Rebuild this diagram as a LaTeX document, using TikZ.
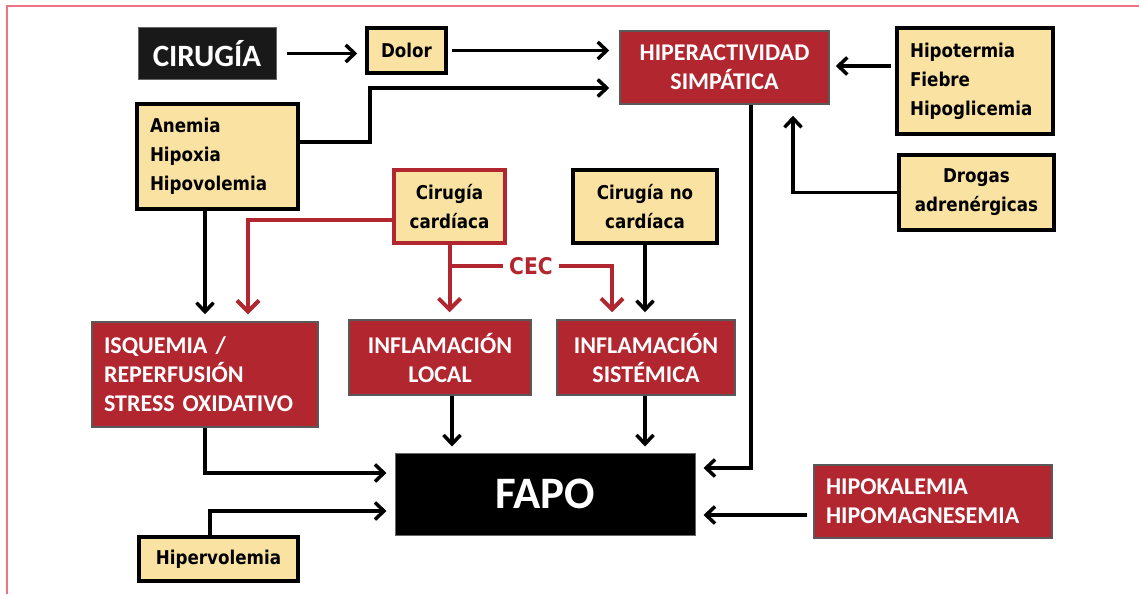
\documentclass[tikz,border=0pt]{standalone}
\usepackage{fontspec}
\usetikzlibrary{arrows.meta}
\newfontfamily\yfont{DejaVu Sans}[FakeStretch=0.88]
\newfontfamily\rfont{Carlito}
\definecolor{boxyellow}{HTML}{FAE3A2}
\definecolor{boxred}{HTML}{B2262F}
\definecolor{framepink}{HTML}{EE7485}

\begin{document}
\begin{tikzpicture}[x=1pt, y=-1pt,
		ybox/.style={draw, line width=3.5pt, fill=boxyellow, inner sep=0pt, align=center,
			font=\yfont\bfseries\fontsize{19}{29}\selectfont},
		rbox/.style={draw=black!65, line width=1.5pt, fill=boxred, inner sep=0pt, align=center,
			text=white, font=\rfont\bfseries\fontsize{24}{29}\selectfont},
		conn/.style={line width=3.5pt, -{Straight Barb[length=9pt,width=17pt]}, shorten >=8pt},
		redline/.style={line width=4pt, draw=boxred},
		redconn/.style={redline, -{Straight Barb[length=11pt,width=22pt]}, shorten >=7pt}]
	\useasboundingbox (0,0) rectangle (1139,594);
	\draw[framepink, line width=1.5pt] (7,594) -- (7,6) -- (1139,6);

	% top row
	\node[fill=black!90, draw=black!60, line width=1pt, minimum width=138, minimum height=51,
		text=white, font=\rfont\bfseries\fontsize{31}{31}\selectfont] (cirugia) at (207,53.5) {CIRUGÍA};
	\node[ybox, minimum width=79, minimum height=45] (dolor) at (406.5,50.5) {Dolor};
	\node[rbox, minimum width=209, minimum height=73] (hiper) at (724.5,67.5) {HIPERACTIVIDAD\\SIMPÁTICA};
	\node[ybox, minimum width=156, minimum height=106, text width=130, align=left] (hipot) at (975,81)
		{Hipotermia\\Fiebre\\Hipoglicemia};
	\node[ybox, minimum width=155, minimum height=75] (drogas) at (976.5,192.5) {Drogas\\adrenérgicas};

	% middle
	\node[ybox, minimum width=161, minimum height=105, text width=135, align=left] (anemia) at (217.5,156.5)
		{Anemia\\Hipoxia\\Hipovolemia};
	\node[ybox, draw=boxred, minimum width=111, minimum height=73] (cardiaca) at (449.5,206.5) {Cirugía\\cardíaca};
	\node[ybox, minimum width=144, minimum height=73] (nocard) at (645,206.5) {Cirugía no\\cardíaca};
	\node[text=boxred, inner xsep=6pt, font=\yfont\bfseries\fontsize{23}{23}\selectfont] (cec) at (531,266) {CEC};

	\node[rbox, minimum width=226, minimum height=105, text width=202, align=left] (isq) at (205,374.5)
		{ISQUEMIA /\\REPERFUSIÓN\\STRESS OXIDATIVO};
	\node[rbox, minimum width=182, minimum height=75] (inflocal) at (440,357.5) {INFLAMACIÓN\\LOCAL};
	\node[rbox, minimum width=178, minimum height=75] (inflsist) at (646,357.5) {INFLAMACIÓN\\SISTÉMICA};

	% bottom
	\node[fill=black, draw=black!60, line width=1pt, minimum width=300, minimum height=82,
		text=white, font=\rfont\bfseries\fontsize{45}{45}\selectfont] (fapo) at (545,494) {FAPO};
	\node[rbox, minimum width=238, minimum height=73, text width=214, align=left] (hipok) at (933,501.5)
		{HIPOKALEMIA\\HIPOMAGNESEMIA};
	\node[ybox, minimum width=159, minimum height=44] (hiperv) at (218.5,559) {Hipervolemia};

	% into hiperactividad
	\draw[conn, shorten <=10pt] (cirugia.east) -- (cirugia.east -| dolor.west);
	\draw[conn, shorten <=4pt, shorten >=10pt] (dolor.east) -- (dolor.east -| hiper.west);
	\draw[conn, shorten >=10pt] ([yshift=14.5pt]anemia.east) -- ++(70,0) |- ([yshift=-20.5pt]hiper.west);
	\draw[conn, shorten <=4pt, shorten >=6pt] ([yshift=15pt]hipot.west) -- ([yshift=15pt]hipot.west -| hiper.east);
	\draw[conn, shorten >=11pt] (drogas.west) -| ([xshift=68.5pt]hiper.south);

	% into the middle row
	\draw[conn, shorten >=7pt] (isq.north |- anemia.south) -- (isq.north);
	\draw[redconn] ([yshift=-13.5pt]cardiaca.west) -| ([xshift=43pt]isq.north);
	\draw[redconn] (cardiaca.south) -- (cardiaca.south |- inflocal.north);
	\draw[redline] (cardiaca.south |- cec.west) -- (cec.west);
	\draw[redconn] (cec.east) -| ([xshift=-34pt]inflsist.north);
	\draw[conn, shorten >=7pt] (nocard.south) -- (nocard.south |- inflsist.north);

	% into fapo
	\draw[conn, shorten >=6pt] ([xshift=12pt]inflocal.south) -- ([xshift=12pt]inflocal.south |- fapo.north);
	\draw[conn, shorten >=6pt] (inflsist.south -| nocard.south) -- (nocard.south |- fapo.north);
	\draw[conn] (isq.south) |- ([yshift=21pt]fapo.west);
	\draw[conn] ([xshift=-8.5pt]hiperv.north) |- ([yshift=-17pt]fapo.west);
	\draw[conn] ([xshift=26.5pt]hiper.south) |- ([yshift=26pt]fapo.east);
	\draw[conn, shorten <=6pt] ([yshift=-13.5pt]hipok.west) -- ([yshift=-13.5pt]hipok.west -| fapo.east);
\end{tikzpicture}
\end{document}
